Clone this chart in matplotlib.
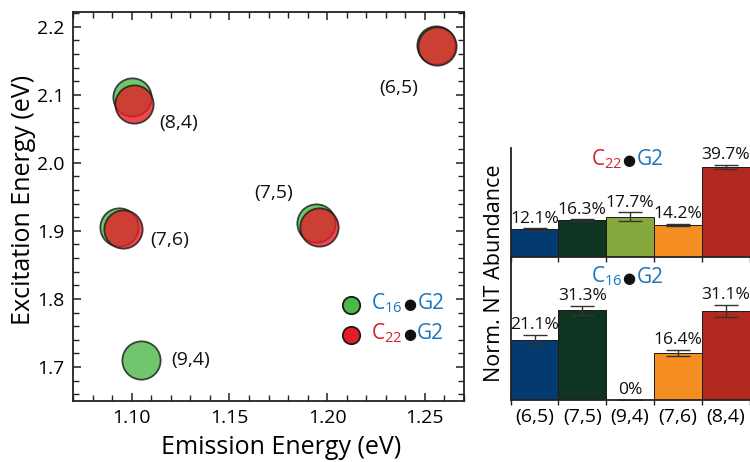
import matplotlib
matplotlib.use("Agg")
import matplotlib.pyplot as plt
from matplotlib.ticker import MultipleLocator, FormatStrFormatter
from matplotlib.offsetbox import TextArea, HPacker, AnnotationBbox
import numpy as np

plt.rcParams['font.family'] = ['Open Sans', 'DejaVu Sans']
plt.rcParams['mathtext.default'] = 'regular'

# chiralities (order used by the bar panels)
chiralities = ['(6,5)', '(7,5)', '(9,4)', '(7,6)', '(8,4)']
bar_colors = ['#033b70', '#0f3522', '#87a83c', '#f58e22', '#b4291f']

# scatter: C16-G2 (green) and C22-G2 (red) peak positions
c16_emis = [1.2555, 1.1944, 1.105, 1.0937, 1.1002]
c16_exc = [2.1725, 1.912, 1.710, 1.906, 2.097]
c22_emis = [1.256, 1.1956, 1.0957, 1.1014]
c22_exc = [2.171, 1.906, 1.9023, 2.087]

# label anchor positions for the chirality annotations
lab_x = [1.2364, 1.1728, 1.130, 1.1197, 1.1242]
lab_y = [2.110, 1.956, 1.710, 1.886, 2.058]

# normalised abundances (%) and error bars
c22_vals = [12.1, 16.3, 17.7, 14.2, 39.7]
c22_err = [0.5, 0.3, 1.9, 0.4, 0.9]
c16_vals = [21.1, 31.3, 0.0, 16.4, 31.1]
c16_err = [1.75, 1.5, 0.0, 1.05, 2.05]

GREEN = '#4cb848'
RED = '#e41e26'
TXT_RED = '#d2232a'
TXT_BLUE = '#1b75bc'
EDGE = '#1a1a1a'

fig = plt.figure(figsize=(7.5, 4.62), dpi=100)

# ---------------- scatter ----------------
ax = fig.add_axes([73/750, 1-401/462, (464-73)/750, (401-11.7)/462])
ax.scatter(c16_emis, c16_exc, s=760, color=GREEN, alpha=0.8,
           edgecolors=EDGE, linewidths=1.3, zorder=3)
ax.scatter(c22_emis, c22_exc, s=760, color=RED, alpha=0.8,
           edgecolors=EDGE, linewidths=1.3, zorder=4)
for name, x, y in zip(chiralities, lab_x, lab_y):
    ax.text(x, y, name, fontsize=14, ha='center', va='center', color='#111')

ax.set_xlim(1.07, 1.27)
ax.set_ylim(1.65, 2.222)
ax.xaxis.set_major_locator(MultipleLocator(0.05))
ax.xaxis.set_minor_locator(MultipleLocator(0.01))
ax.yaxis.set_major_locator(MultipleLocator(0.1))
ax.yaxis.set_minor_locator(MultipleLocator(0.02))
ax.xaxis.set_major_formatter(FormatStrFormatter('%.2f'))
ax.yaxis.set_major_formatter(FormatStrFormatter('%.1f'))
ax.tick_params(which='both', direction='in', top=True, right=True,
               labelsize=14, color='#222', pad=6)
ax.tick_params(which='major', length=6, width=1.1)
ax.tick_params(which='minor', length=4, width=1.0)
for sp in ax.spines.values():
    sp.set_linewidth(1.3)
    sp.set_color('#222')
fig.text(281/750, 1-448/462, 'Emission Energy (eV)', fontsize=18,
         ha='center', va='center')
fig.text(24/750, 1-200/462, 'Excitation Energy (eV)', fontsize=18,
         ha='center', va='center', rotation=90)

# legend markers + multicoloured labels
for yy, col in [(0.2466, GREEN), (0.1695, RED)]:
    ax.plot([0.711], [yy], 'o', ms=12.5, color=col, mec=EDGE, mew=1.3,
            transform=ax.transAxes, clip_on=False)


def tag(prefix_color, sub, size):
    parts = [TextArea(r'C$_{%s}$' % sub, textprops=dict(color=prefix_color, fontsize=size)),
             TextArea('\u25cf', textprops=dict(color='#111', fontsize=size*0.72,
                                               family=['DejaVu Sans'])),
             TextArea('G2', textprops=dict(color=TXT_BLUE, fontsize=size))]
    return HPacker(children=parts, align='baseline', pad=0, sep=0.5)


for yy, col, sub in [(0.2466, TXT_BLUE, '16'), (0.1695, TXT_RED, '22')]:
    ab = AnnotationBbox(tag(col, sub, 15), (0.763, yy), xycoords='axes fraction',
                        box_alignment=(0, 0.42), frameon=False)
    ax.add_artist(ab)

# ---------------- bar panels ----------------
left = 510.7/750
width = (749.5-510.7)/750
ax_top = fig.add_axes([left, 1-256.7/462, width, (256.7-148.3)/462])
ax_bot = fig.add_axes([left, 1-400/462, width, (400-256.7)/462])

xpos = np.arange(len(chiralities))
for a, vals, errs, ymax in [(ax_top, c22_vals, c22_err, 48), (ax_bot, c16_vals, c16_err, 50)]:
    a.bar(xpos, vals, width=1.0, color=bar_colors, edgecolor=EDGE, linewidth=0.7,
          yerr=errs, capsize=8.5,
          error_kw=dict(ecolor='#333', elinewidth=1.0, capthick=1.0))
    for x, v, e in zip(xpos, vals, errs):
        a.annotate(f'{v:g}%', (x, v + e), xytext=(0, 1.2), textcoords='offset points',
                   ha='center', va='bottom', fontsize=12.5, color='#111')
    a.set_xlim(-0.5, 4.5)
    a.set_ylim(0, ymax)
    a.set_yticks([])
    a.set_xticks(xpos)
    a.set_xticks(np.arange(-0.5, 5.0, 1.0), minor=True)
    a.tick_params(axis='x', which='major', length=0, labelsize=14, pad=6)
    a.tick_params(axis='x', which='minor', direction='out', length=3.5, width=1.0, color='#222')
    for s in ['top', 'right']:
        a.spines[s].set_visible(False)
    for s in ['left', 'bottom']:
        a.spines[s].set_linewidth(1.3)
        a.spines[s].set_color('#222')
    a.patch.set_alpha(0)

ax_top.set_xticklabels([])
ax_bot.set_xticklabels(chiralities)

ab = AnnotationBbox(tag(TXT_RED, '22', 15), (0.487, 0.885), xycoords='axes fraction',
                    box_alignment=(0.5, 0.42), frameon=False)
ax_top.add_artist(ab)
ab = AnnotationBbox(tag(TXT_BLUE, '16', 15), (0.487, 0.85), xycoords='axes fraction',
                    box_alignment=(0.5, 0.42), frameon=False)
ax_bot.add_artist(ab)

fig.text(495/750, 1-273/462, 'Norm. NT Abundance', fontsize=15.5,
         ha='center', va='center', rotation=90)

fig.savefig('out.png', dpi=100)
